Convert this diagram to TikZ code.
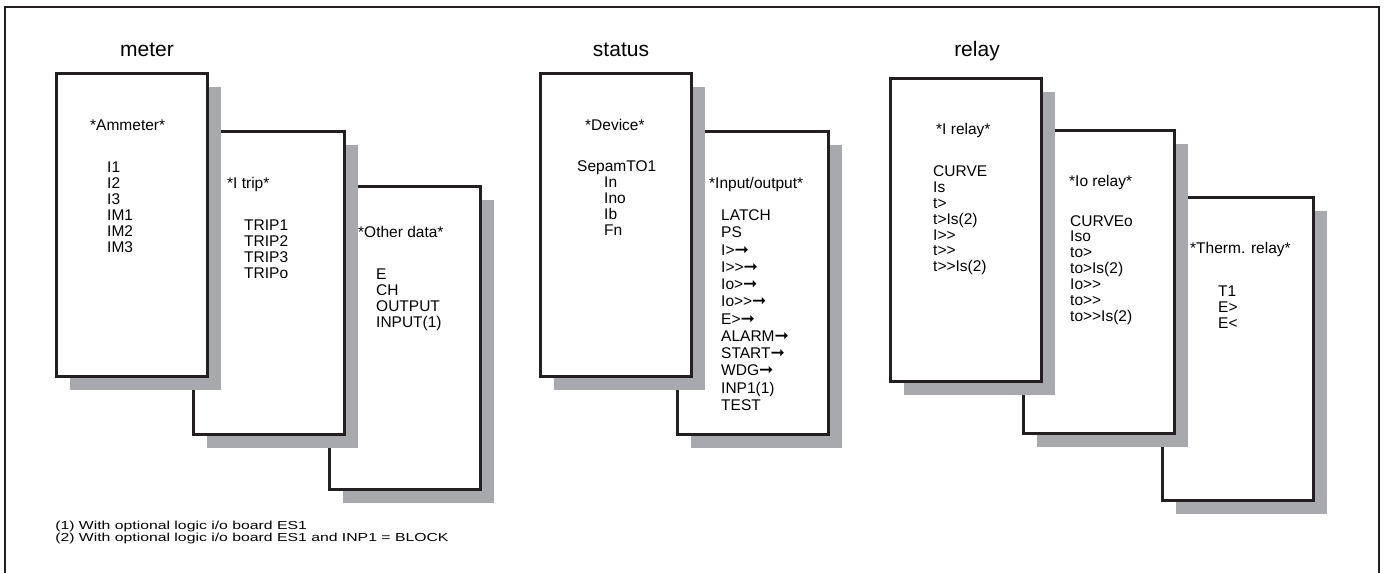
\documentclass[tikz,border=0pt]{standalone}
\usepackage{fontspec}
\setmainfont{Liberation Sans}
\newfontfamily\arrowfont{DejaVu Sans}
\usetikzlibrary{shadows}
\definecolor{shadowgray}{RGB}{167,169,172}
\definecolor{inkblack}{RGB}{35,31,32}
\newcommand\rarr{{\arrowfont\fontsize{17}{16}\selectfont ➞}}
\newcommand\entries[5]{%
  \foreach \txt [count=\k from 0] in {#5}
    \node[entry] (#1\k) at (#2,{#3+#4*\k}) {\txt};}

\begin{document}
\begin{tikzpicture}[
  x=1pt, y=-1pt,
  font=\fontsize{15.5}{16}\selectfont,
  page/.style={draw=inkblack, line width=2.6pt, fill=white, anchor=north west,
    minimum width=151pt, minimum height=303pt, inner sep=0pt,
    drop shadow={shadow xshift=14pt, shadow yshift=-14pt, fill=shadowgray, opacity=1}},
  title/.style={anchor=base, inner sep=0pt, font=\fontsize{21}{24}\selectfont},
  head/.style={anchor=base west, inner sep=0pt},
  entry/.style={anchor=base west, inner sep=0pt},
  note/.style={anchor=base west, inner sep=0pt, xscale=1.36, transform shape,
    font=\fontsize{11.6}{12}\selectfont},
  frame/.style={draw=inkblack, line width=2pt}
]
\useasboundingbox (0,0) rectangle (1385,573);
\draw[frame] (5,590) -- (5,7) -- (1379,7) -- (1379,590);

% meter
\node[title] (tmeter) at (147,56) {meter};
\node[page] (other) at (328,185) {};
\node[page] (itrip) at (192,130) {};
\node[page] (amm) at (55,72) {};
\node[head] (ammhead) at (90,130) {*Ammeter*};
\entries{amm}{107}{172.5}{16}{I1,I2,I3,IM1,IM2,IM3}
\node[head] (itriphead) at (227,188) {*I trip*};
\entries{itrip}{244}{230}{16}{TRIP1,TRIP2,TRIP3,TRIPo}
\node[head] (otherhead) at (358,237) {*Other data*};
\entries{other}{376}{279.5}{16}{E,CH,OUTPUT,INPUT(1)}

% status
\node[title] (tstatus) at (621,56) {status};
\node[page] (inout) at (676,130) {};
\node[page] (dev) at (539,72) {};
\node[head] (devhead) at (585,130.5) {*Device*};
\node[entry] (sepam) at (577,171) {SepamTO1};
\entries{dev}{604}{187}{16.33}{In,Ino,Ib,Fn}
\node[head] (inouthead) at (709,188) {*Input/output*};
\entries{inout}{721}{220.7}{17.25}{LATCH,PS,I>\rarr,I>{}>\rarr,Io>\rarr,Io>{}>\rarr,E>\rarr,ALARM\rarr,START\rarr,WDG\rarr,INP1(1),TEST}

% relay
\node[title] (trelay) at (977,56) {relay};
\node[page] (therm) at (1161,196) {};
\node[page] (iorel) at (1022,129) {};
\node[page] (irel) at (889,77) {};
\node[head] (irelhead) at (936,134) {*I relay*};
\entries{irel}{933}{176.7}{15.85}{CURVE,Is,t>,t>Is(2),I>{}>,t>{}>,t>{}>Is(2)}
\node[head] (iorelhead) at (1069,186) {*Io relay*};
\entries{iorel}{1070}{226}{15.95}{CURVEo,Iso,to>,to>Is(2),Io>{}>,to>{}>,to>{}>Is(2)}
\node[head] (thermhead) at (1190,253.3) {*Therm. relay*};
\entries{therm}{1218}{296.7}{15.8}{T1,E>,E<}

% notes
\node[note] (note1) at (55,529.5) {(1) With optional logic i/o board ES1};
\node[note] (note2) at (55,541.5) {(2) With optional logic i/o board ES1 and INP1 = BLOCK};
\end{tikzpicture}
\end{document}
